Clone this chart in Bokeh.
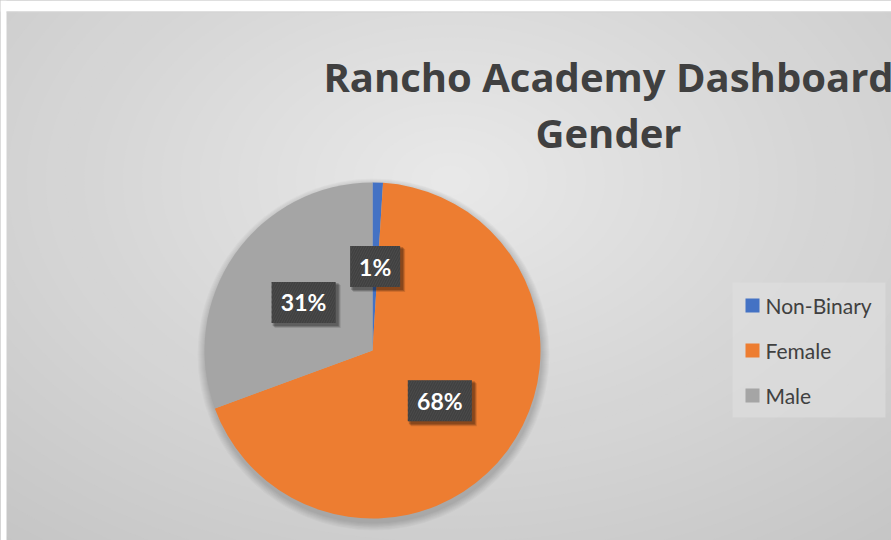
import math
from bokeh.plotting import figure
from bokeh.models import Range1d
from bokeh.core.properties import value
from bokeh.embed import file_html
from bokeh.resources import INLINE

# ---- data ----
title_lines = ["Rancho Academy Dashboard", "Gender"]
categories = ["Non-Binary", "Female", "Male"]
shares = [1.0, 68.4, 30.6]
colors = ["#4472C4", "#ED7D31", "#A5A5A5"]

W, H = 891, 540
p = figure(width=W, height=H, output_backend="svg", toolbar_location=None,
           x_range=Range1d(0, W), y_range=Range1d(0, H), min_border=0,
           background_fill_color="white", border_fill_color="white")
p.axis.visible = False
p.grid.visible = False
p.outline_line_color = None

# ---- background radial gradient ----
gx, gy = 450, 360
n = 40
ws, hs, cs = [], [], []
for i in range(n):
    t = i / (n - 1)
    ws.append(1500 * (1 - t) + 40)
    hs.append(1000 * (1 - t) + 30)
    g = int(round(0xC2 + (0xE8 - 0xC2) * t))
    cs.append("#%02x%02x%02x" % (g, g, g))
p.ellipse(x=[gx] * n, y=[gy] * n, width=ws, height=hs, fill_color=cs, line_color=None)
p.quad(left=[0], right=[W], bottom=[H - 11], top=[H], fill_color="white", line_color=None)
p.quad(left=[0], right=[6], bottom=[0], top=[H], fill_color="white", line_color=None)
p.quad(left=[6], right=[W], bottom=[H - 12], top=[H - 11], fill_color="#d4d4d4", line_color=None)

# ---- pie ----
cx, cy, R = 372, 190, 168
# shadow
for k in range(8):
    p.circle(x=[cx + 1], y=[cy - 4], radius=R + 1 + k, fill_color="black", fill_alpha=0.025, line_color=None)

total = sum(shares)
starts, ends, mids = [], [], []
cum = 0.0
for v in shares:
    a0 = math.pi / 2 - 2 * math.pi * cum / total
    cum += v
    a1 = math.pi / 2 - 2 * math.pi * cum / total
    starts.append(a0)
    ends.append(a1)
    mids.append((a0 + a1) / 2)
p.wedge(x=[cx] * 3, y=[cy] * 3, radius=R, start_angle=starts, end_angle=ends,
        direction="clock", fill_color=colors, line_color=None)

# ---- data labels ----
labels = ["%d%%" % round(v / total * 100) for v in shares]
lx = [cx + 0.5 * R * math.cos(a) for a in mids]
ly = [cy + 0.5 * R * math.sin(a) for a in mids]
bw = [14 * len(s) + 22 for s in labels]
bh = 41
for off, al in [(4, 0.12), (3, 0.18), (2, 0.2)]:
    p.rect(x=[x + off for x in lx], y=[y - off for y in ly], width=[w + 2 for w in bw], height=bh + 2,
           fill_color="black", fill_alpha=al, line_color=None)
p.rect(x=lx, y=ly, width=bw, height=bh, fill_color="#404040", line_color=None,
       hatch_pattern="/", hatch_color="#4e4e4e", hatch_scale=5, hatch_weight=1, hatch_alpha=0.8)
p.text(x=lx, y=ly, text=labels, text_color="white", text_font=value("Lato"),
       text_font_style="bold", text_font_size="23px", text_align="center", text_baseline="middle")

# ---- legend ----
p.quad(left=[732], right=[885], bottom=[123], top=[258], fill_color="#e0e0e0", fill_alpha=0.6, line_color=None)
ly_leg = [190 + 45 * (1 - i) for i in range(len(categories))]
p.rect(x=[752] * 3, y=ly_leg, width=14, height=14, fill_color=colors, line_color=None)
p.text(x=[765] * 3, y=ly_leg, text=categories, text_color="#404040", text_font=value("Lato"),
       text_font_size="21px", text_align="left", text_baseline="middle")

# ---- title ----
p.text(x=[608, 608], y=[464, 408], text=title_lines, text_color="#404040",
       text_font=value("Open Sans"), text_font_style="bold", text_font_size="40px",
       text_align="center", text_baseline="alphabetic")

open("out.html", "w").write(file_html(p, INLINE))
